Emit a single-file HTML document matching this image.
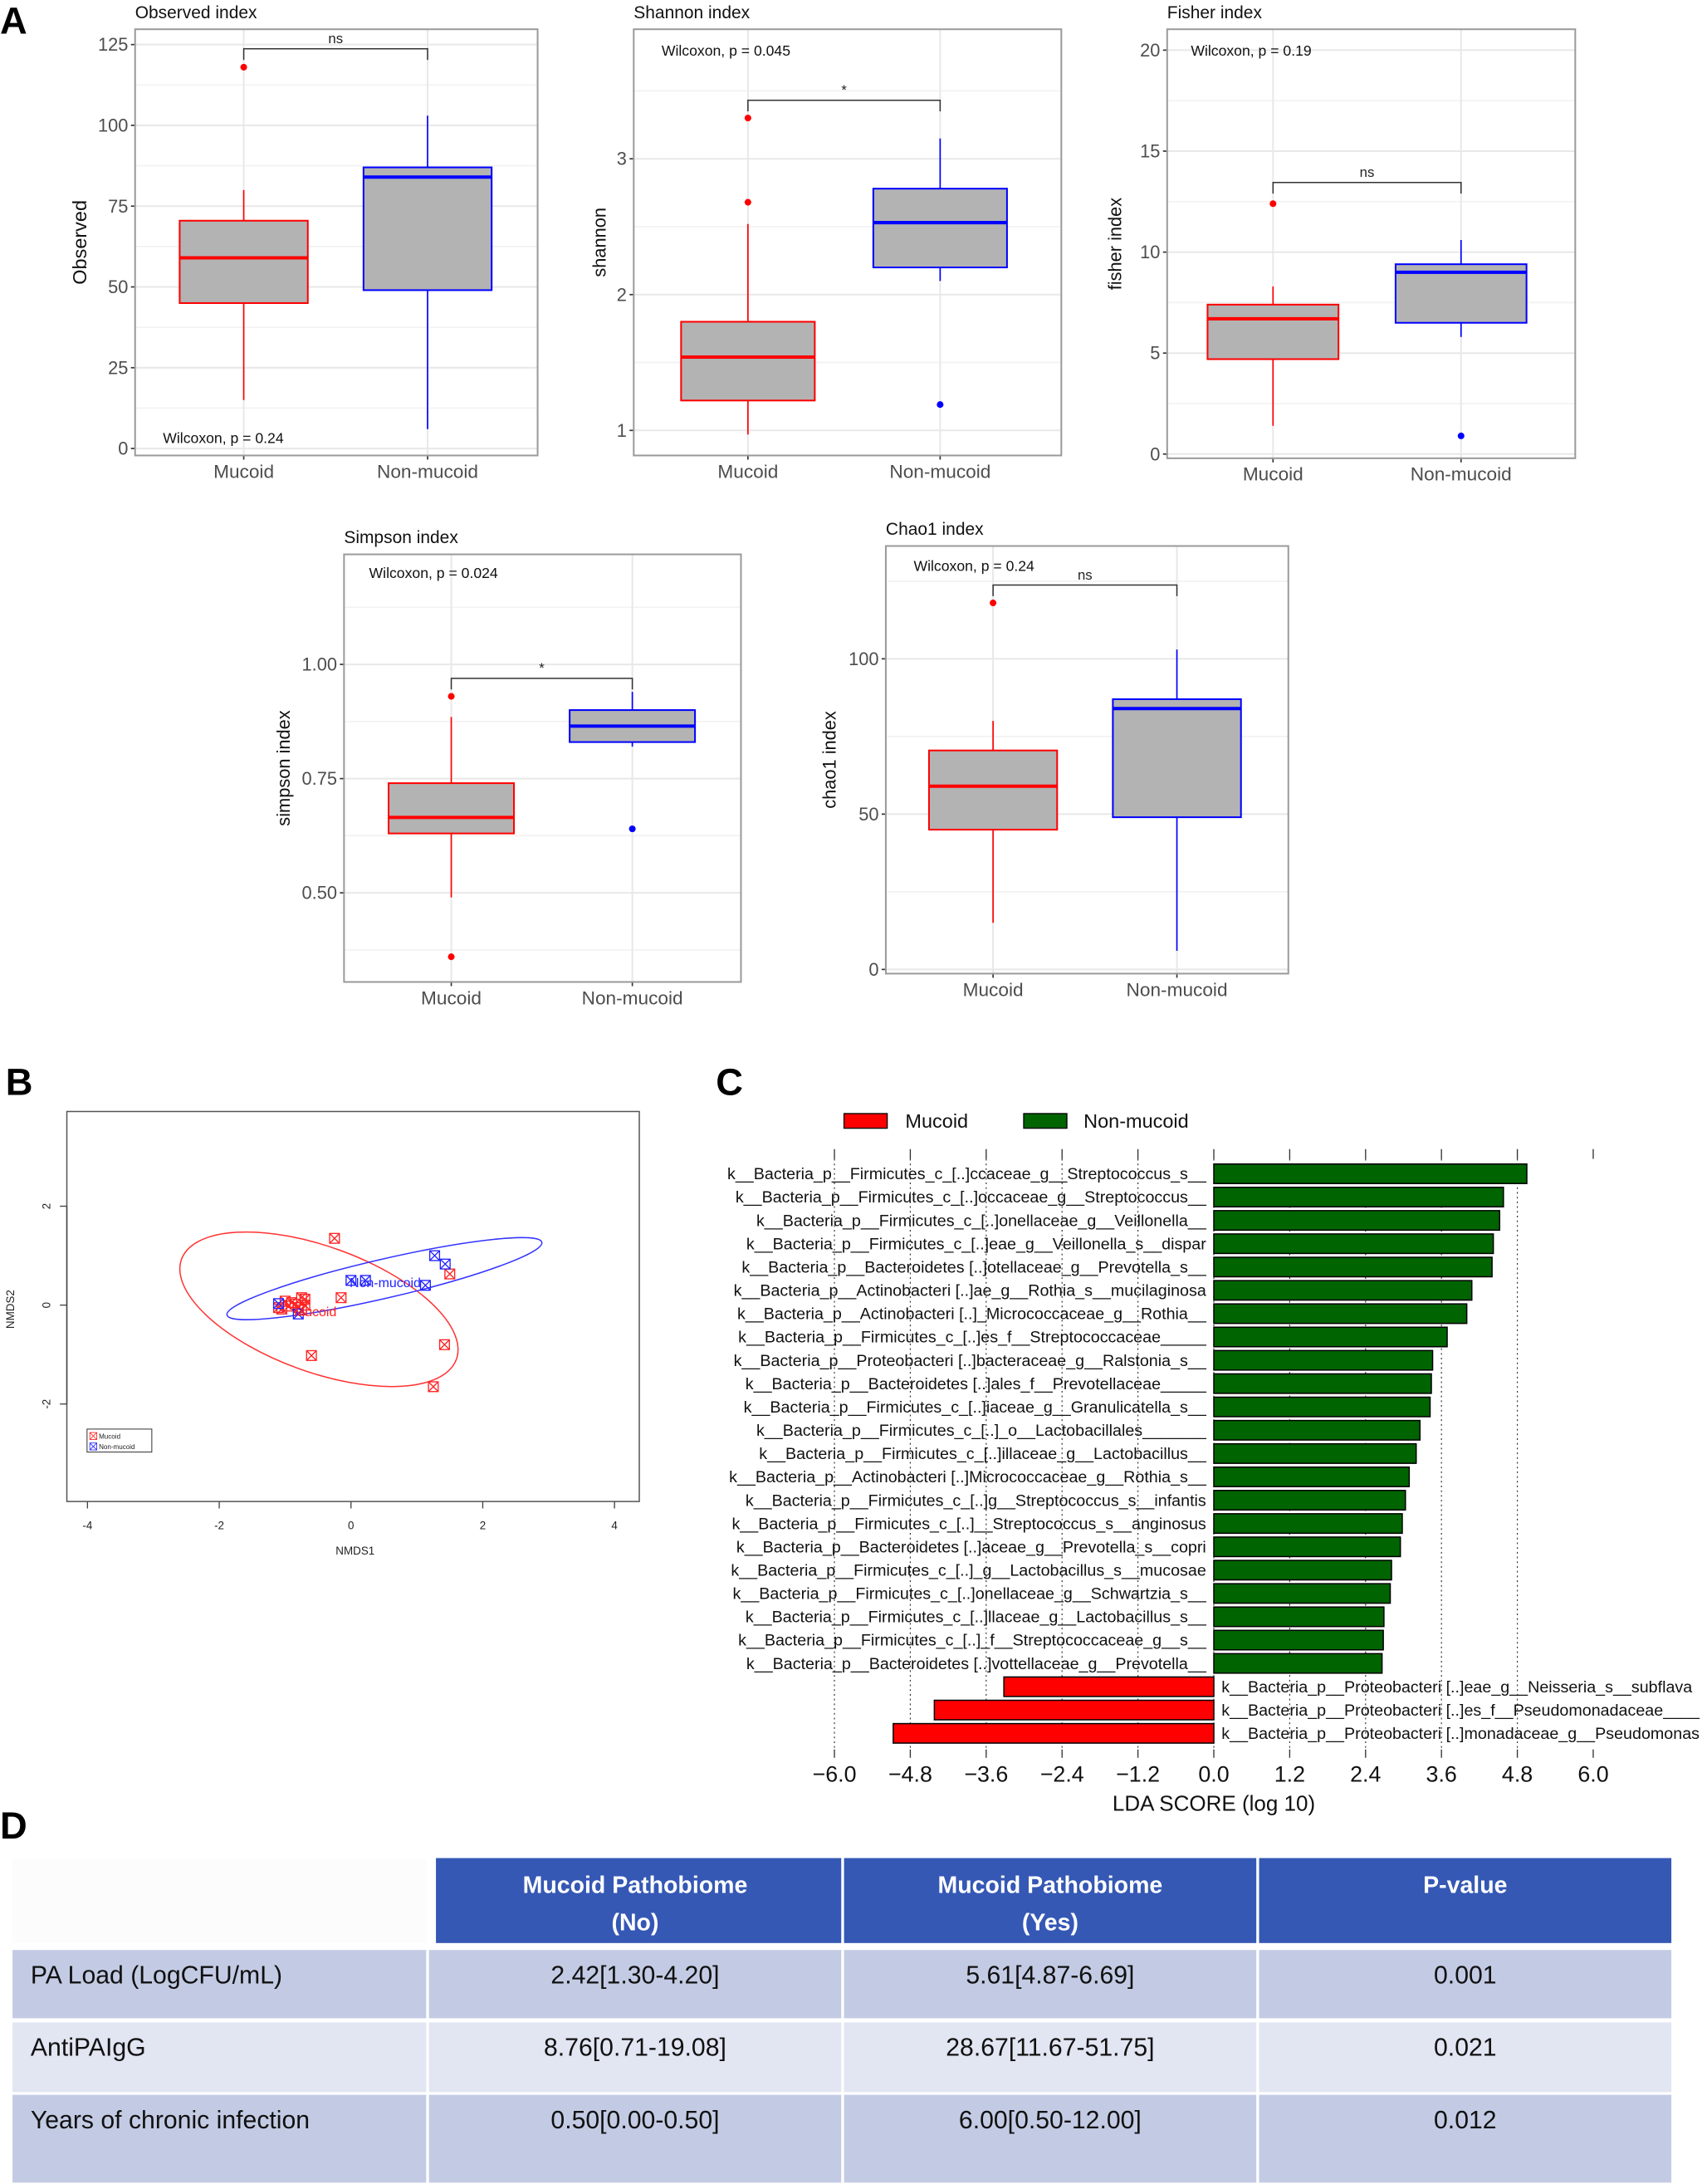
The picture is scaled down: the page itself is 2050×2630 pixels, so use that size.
<!DOCTYPE html>
<html><head><meta charset="utf-8">
<style>
html,body{margin:0;padding:0;background:#fff;}
svg{display:block;}
text{font-family:"Liberation Sans",sans-serif;}
</style></head>
<body>
<svg id="fig" xmlns="http://www.w3.org/2000/svg" width="2050" height="2630" viewBox="0 0 1222 1568" preserveAspectRatio="none">
<rect x="0" y="0" width="1222" height="1568" fill="#fff"/>
<g id="panelA"></g>
<g id="panelB"></g>
<g id="panelC"></g>
<g id="panelD"></g>
<text x="0" y="24" font-size="27" font-weight="bold">A</text>
<text x="4" y="786" font-size="27" font-weight="bold">B</text>
<text x="514" y="786" font-size="27" font-weight="bold">C</text>
<text x="0" y="1320" font-size="27" font-weight="bold">D</text>
</svg>
<script>
// ---------- Panel A data ----------
const boxCats = ['Mucoid', 'Non-mucoid'];
const observedStats = [[15, 45, 59, 70.5, 80], [6, 49, 84, 87, 103]];
const observedOutliers = [[118], []];
const shannonStats = [[0.97, 1.22, 1.54, 1.8, 2.52], [2.1, 2.2, 2.53, 2.78, 3.15]];
const shannonOutliers = [[2.68, 3.3], [1.19]];
const fisherStats = [[1.4, 4.7, 6.7, 7.4, 8.3], [5.8, 6.5, 9.0, 9.4, 10.6]];
const fisherOutliers = [[12.4], [0.9]];
const simpsonStats = [[0.49, 0.63, 0.665, 0.74, 0.885], [0.82, 0.83, 0.865, 0.90, 0.94]];
const simpsonOutliers = [[0.93, 0.36], [0.64]];
const chao1Stats = [[15, 45, 59, 70.5, 80], [6, 49, 84, 87, 103]];
const chao1Outliers = [[118], []];
const observedTicks = [0, 25, 50, 75, 100, 125];
const shannonTicks = [1, 2, 3];
const fisherTicks = [0, 5, 10, 15, 20];
const simpsonTicks = [0.5, 0.75, 1.0];
const simpsonTickLabels = ['0.50', '0.75', '1.00'];
const chao1Ticks = [0, 50, 100];

// ---------- Panel B data ----------
const nmdsRedX = [-0.25, 1.5, -0.15, -0.7, -0.75, -1.0, -0.9, -1.1, -1.05, -0.8, -0.75, -0.85, 1.42, -0.6, 1.25, -0.95, -0.7];
const nmdsRedY = [1.35, 0.63, 0.15, 0.12, 0.15, 0.08, 0.05, -0.05, -0.08, -0.05, -0.1, 0.02, -0.8, -1.02, -1.65, -0.02, 0.0];
const nmdsBlueX = [1.27, 1.43, 0.0, 0.22, 1.13, -1.1, -0.8];
const nmdsBlueY = [1.0, 0.83, 0.5, 0.5, 0.4, 0.03, -0.18];
const nmdsXTicks = [-4, -2, 0, 2, 4];
const nmdsYTicks = [-2, 0, 2];

// ---------- Panel C data ----------
const ldaLabels = [
'k__Bacteria_p__Firmicutes_c_[..]ccaceae_g__Streptococcus_s__',
'k__Bacteria_p__Firmicutes_c_[..]occaceae_g__Streptococcus__',
'k__Bacteria_p__Firmicutes_c_[..]onellaceae_g__Veillonella__',
'k__Bacteria_p__Firmicutes_c_[..]eae_g__Veillonella_s__dispar',
'k__Bacteria_p__Bacteroidetes [..]otellaceae_g__Prevotella_s__',
'k__Bacteria_p__Actinobacteri [..]ae_g__Rothia_s__mucilaginosa',
'k__Bacteria_p__Actinobacteri [..]_Micrococcaceae_g__Rothia__',
'k__Bacteria_p__Firmicutes_c_[..]es_f__Streptococcaceae_____',
'k__Bacteria_p__Proteobacteri [..]bacteraceae_g__Ralstonia_s__',
'k__Bacteria_p__Bacteroidetes [..]ales_f__Prevotellaceae_____',
'k__Bacteria_p__Firmicutes_c_[..]iaceae_g__Granulicatella_s__',
'k__Bacteria_p__Firmicutes_c_[..]_o__Lactobacillales_______',
'k__Bacteria_p__Firmicutes_c_[..]illaceae_g__Lactobacillus__',
'k__Bacteria_p__Actinobacteri [..]Micrococcaceae_g__Rothia_s__',
'k__Bacteria_p__Firmicutes_c_[..]g__Streptococcus_s__infantis',
'k__Bacteria_p__Firmicutes_c_[..]__Streptococcus_s__anginosus',
'k__Bacteria_p__Bacteroidetes [..]aceae_g__Prevotella_s__copri',
'k__Bacteria_p__Firmicutes_c_[..]_g__Lactobacillus_s__mucosae',
'k__Bacteria_p__Firmicutes_c_[..]onellaceae_g__Schwartzia_s__',
'k__Bacteria_p__Firmicutes_c_[..]llaceae_g__Lactobacillus_s__',
'k__Bacteria_p__Firmicutes_c_[..]_f__Streptococcaceae_g__s__',
'k__Bacteria_p__Bacteroidetes [..]vottellaceae_g__Prevotella__',
'k__Bacteria_p__Proteobacteri [..]eae_g__Neisseria_s__subflava',
'k__Bacteria_p__Proteobacteri [..]es_f__Pseudomonadaceae____',
'k__Bacteria_p__Proteobacteri [..]monadaceae_g__Pseudomonas'
];
const ldaScores = [4.95, 4.58, 4.52, 4.42, 4.40, 4.08, 4.00, 3.69, 3.46, 3.44, 3.42, 3.26, 3.20, 3.09, 3.03, 2.98, 2.95, 2.81, 2.79, 2.69, 2.68, 2.66, -3.32, -4.42, -5.07];
const ldaTicks = [-6.0, -4.8, -3.6, -2.4, -1.2, 0.0, 1.2, 2.4, 3.6, 4.8, 6.0];

// ---------- Panel D data ----------
const tableHeaders = [['Mucoid Pathobiome', '(No)'], ['Mucoid Pathobiome', '(Yes)'], ['P-value']];
const tableRowNames = ['PA Load (LogCFU/mL)', 'AntiPAIgG', 'Years of chronic infection'];
const tableColNo = ['2.42[1.30-4.20]', '8.76[0.71-19.08]', '0.50[0.00-0.50]'];
const tableColYes = ['5.61[4.87-6.69]', '28.67[11.67-51.75]', '6.00[0.50-12.00]'];
const tablePvals = ['0.001', '0.021', '0.012'];

const NS = 'http://www.w3.org/2000/svg';
function mk(parent, tag, attrs, txt) {
  const e = document.createElementNS(NS, tag);
  for (const k in attrs) e.setAttribute(k, attrs[k]);
  if (txt !== undefined) e.textContent = txt;
  parent.appendChild(e);
  return e;
}
const colors = ['#ff0000', '#0000ff'];

// ---------- boxplot panels ----------
function boxPanel(cfg, stats, outliers, ticks, tickLabels) {
  const g = mk(document.getElementById('panelA'), 'g', {});
  
  
  const y = v => cfg.y0 - (v - cfg.v0) * cfg.k;
  mk(g, 'rect', {x: cfg.x1, y: cfg.y1, width: cfg.x2 - cfg.x1, height: cfg.y2 - cfg.y1, fill: '#fff'});
  const step = ticks[1] - ticks[0];
  for (let v = ticks[0] - step * 3 + step / 2; v < ticks[ticks.length - 1] + step * 3; v += step) {
    const yy = y(v);
    if (yy > cfg.y1 + 1 && yy < cfg.y2 - 1) mk(g, 'line', {x1: cfg.x1, x2: cfg.x2, y1: yy, y2: yy, stroke: '#f2f2f2', 'stroke-width': 1});
  }
  ticks.forEach((t, i) => {
    const yy = y(t);
    mk(g, 'line', {x1: cfg.x1, x2: cfg.x2, y1: yy, y2: yy, stroke: '#e8e8e8', 'stroke-width': 1.2});
    mk(g, 'line', {x1: cfg.x1 - 3, x2: cfg.x1, y1: yy, y2: yy, stroke: '#333', 'stroke-width': 1});
    const tl = mk(g, 'text', {x: cfg.x1 - 5, y: yy + 4.5, 'font-size': 13, fill: '#4d4d4d', 'text-anchor': 'end'}, tickLabels ? tickLabels[i] : String(t));
    
    
  });
  cfg.xc.forEach(xc => {
    mk(g, 'line', {x1: xc, x2: xc, y1: cfg.y1, y2: cfg.y2, stroke: '#e8e8e8', 'stroke-width': 1.2});
  });
  stats.forEach((s, i) => {
    const xc = cfg.xc[i], c = colors[i], hw = cfg.hw;
    const bg = mk(g, 'g', {});
    
    
    mk(bg, 'line', {x1: xc, x2: xc, y1: y(s[0]), y2: y(s[1]), stroke: c, 'stroke-width': 1});
    mk(bg, 'line', {x1: xc, x2: xc, y1: y(s[3]), y2: y(s[4]), stroke: c, 'stroke-width': 1});
    mk(bg, 'rect', {x: xc - hw, y: y(s[3]), width: hw * 2, height: y(s[1]) - y(s[3]), fill: '#b3b3b3', stroke: c, 'stroke-width': 1.2});
    mk(bg, 'line', {x1: xc - hw, x2: xc + hw, y1: y(s[2]), y2: y(s[2]), stroke: c, 'stroke-width': 2.4});
    outliers[i].forEach(o => {
      const pt = mk(bg, 'circle', {cx: xc, cy: y(o), r: 2.4, fill: c});
      
      
    });
    mk(g, 'line', {x1: xc, x2: xc, y1: cfg.y2, y2: cfg.y2 + 3, stroke: '#333', 'stroke-width': 1});
    const xl = mk(g, 'text', {x: xc, y: cfg.y2 + 16, 'font-size': 13.5, fill: '#4d4d4d', 'text-anchor': 'middle'}, boxCats[i]);
    
    
  });
  mk(g, 'rect', {x: cfg.x1, y: cfg.y1, width: cfg.x2 - cfg.x1, height: cfg.y2 - cfg.y1, fill: 'none', stroke: '#9a9a9a', 'stroke-width': 1.2});
  const by = cfg.by;
  mk(g, 'path', {d: `M${cfg.xc[0]},${by + 8} V${by} H${cfg.xc[1]} V${by + 8}`, fill: 'none', stroke: '#333', 'stroke-width': 0.9});
  const sig = mk(g, 'text', {x: (cfg.xc[0] + cfg.xc[1]) / 2, y: by - 4, 'font-size': 10, fill: '#222', 'text-anchor': 'middle'}, cfg.sig);
  
  
  const w = mk(g, 'text', {x: cfg.wx, y: cfg.wy, 'font-size': 10.5, fill: '#111'}, cfg.wtext);
  
  
  const t = mk(g, 'text', {x: cfg.x1, y: cfg.y1 - 8, 'font-size': 12.5, fill: '#111'}, cfg.title);
  
  
  const yt = mk(g, 'text', {x: cfg.ytx, y: (cfg.y1 + cfg.y2) / 2, 'font-size': cfg.ytSize || 13, fill: '#111', 'text-anchor': 'middle', transform: `rotate(-90 ${cfg.ytx} ${(cfg.y1 + cfg.y2) / 2})`}, cfg.ytitle);
  
  
}

boxPanel({name: 'observed-index-chart', x1: 97, x2: 386, y1: 21, y2: 327, y0: 322, v0: 0, k: 2.32, xc: [175, 307], hw: 46, by: 35, sig: 'ns', wx: 117, wy: 318, wtext: 'Wilcoxon, p = 0.24', title: 'Observed index', ytitle: 'Observed', ytx: 62, ytSize: 14}, observedStats, observedOutliers, observedTicks);
boxPanel({name: 'shannon-index-chart', x1: 455, x2: 762, y1: 21, y2: 327, y0: 309, v0: 1, k: 97.5, xc: [537, 675], hw: 48, by: 72, sig: '*', wx: 475, wy: 40, wtext: 'Wilcoxon, p = 0.045', title: 'Shannon index', ytitle: 'shannon', ytx: 435}, shannonStats, shannonOutliers, shannonTicks);
boxPanel({name: 'fisher-index-chart', x1: 838, x2: 1131, y1: 21, y2: 329, y0: 326, v0: 0, k: 14.5, xc: [914, 1049], hw: 47, by: 131, sig: 'ns', wx: 855, wy: 40, wtext: 'Wilcoxon, p = 0.19', title: 'Fisher index', ytitle: 'fisher index', ytx: 805}, fisherStats, fisherOutliers, fisherTicks);
boxPanel({name: 'simpson-index-chart', x1: 247, x2: 532, y1: 398, y2: 705, y0: 641, v0: 0.5, k: 328, xc: [324, 454], hw: 45, by: 487, sig: '*', wx: 265, wy: 415, wtext: 'Wilcoxon, p = 0.024', title: 'Simpson index', ytitle: 'simpson index', ytx: 208}, simpsonStats, simpsonOutliers, simpsonTicks, simpsonTickLabels);
boxPanel({name: 'chao1-index-chart', x1: 636, x2: 925, y1: 392, y2: 699, y0: 696, v0: 0, k: 2.23, xc: [713, 845], hw: 46, by: 420, sig: 'ns', wx: 656, wy: 410, wtext: 'Wilcoxon, p = 0.24', title: 'Chao1 index', ytitle: 'chao1 index', ytx: 600}, chao1Stats, chao1Outliers, chao1Ticks);

// ---------- Panel B ----------
(function () {
  const g = document.getElementById('panelB');
  const X = v => 252 + v * 47.3, Y = v => 937 - v * 35.5;
  mk(g, 'rect', {x: 48, y: 798, width: 411, height: 280, fill: 'none', stroke: '#555', 'stroke-width': 0.9});
  nmdsXTicks.forEach(t => {
    mk(g, 'line', {x1: X(t), x2: X(t), y1: 1078, y2: 1083, stroke: '#444', 'stroke-width': 0.8});
    const tl = mk(g, 'text', {x: X(t), y: 1098, 'font-size': 8, 'text-anchor': 'middle', fill: '#222'}, String(t));
    
    
  });
  nmdsYTicks.forEach(t => {
    mk(g, 'line', {x1: 43, x2: 48, y1: Y(t), y2: Y(t), stroke: '#444', 'stroke-width': 0.8});
    const tl = mk(g, 'text', {x: 36, y: Y(t), 'font-size': 8, 'text-anchor': 'middle', fill: '#222', transform: `rotate(-90 36 ${Y(t)})`}, String(t));
    
    
  });
  mk(g, 'line', {x1: 48, x2: 48, y1: Y(2), y2: Y(-2), stroke: '#444', 'stroke-width': 0.8});
  const xt = mk(g, 'text', {x: 255, y: 1116, 'font-size': 8, 'text-anchor': 'middle', fill: '#222'}, 'NMDS1');
  
  
  const yt = mk(g, 'text', {x: 10, y: 940, 'font-size': 8, 'text-anchor': 'middle', fill: '#222', transform: 'rotate(-90 10 940)'}, 'NMDS2');
  
  
  const re = mk(g, 'ellipse', {cx: 229, cy: 940, rx: 105, ry: 45, fill: 'none', stroke: '#ff3333', 'stroke-width': 0.9, transform: 'rotate(20 229 940)'});
  
  
  const be = mk(g, 'ellipse', {cx: 276, cy: 918, rx: 116, ry: 14, fill: 'none', stroke: '#3333ff', 'stroke-width': 0.9, transform: 'rotate(-13 276 918)'});
  
  
  function marker(x, y, c) {
    const m = mk(g, 'g', {stroke: c, 'stroke-width': 0.8, fill: 'none'});
    
    
    mk(m, 'rect', {x: x - 3.5, y: y - 3.5, width: 7, height: 7});
    mk(m, 'path', {d: `M${x - 3.5},${y - 3.5} L${x + 3.5},${y + 3.5} M${x + 3.5},${y - 3.5} L${x - 3.5},${y + 3.5}`});
  }
  nmdsRedX.forEach((v, i) => marker(X(v), Y(nmdsRedY[i]), '#ff2222'));
  nmdsBlueX.forEach((v, i) => marker(X(v), Y(nmdsBlueY[i]), '#2222ff'));
  const l1 = mk(g, 'text', {x: 251, y: 924, 'font-size': 9.5, fill: '#2222ff'}, 'Non-mucoid');
  
  
  const l2 = mk(g, 'text', {x: 211, y: 945, 'font-size': 9.5, fill: '#ff2222'}, 'Mucoid');
  
  
  const lg = mk(g, 'g', {});
  
  
  mk(lg, 'rect', {x: 62.5, y: 1026, width: 46.5, height: 16.5, fill: '#fff', stroke: '#333', 'stroke-width': 0.6});
  [['Mucoid', '#ff2222', 1031], ['Non-mucoid', '#2222ff', 1038.5]].forEach(([t, c, yy]) => {
    mk(lg, 'rect', {x: 64.5, y: yy - 2.5, width: 5, height: 5, fill: 'none', stroke: c, 'stroke-width': 0.5});
    mk(lg, 'path', {d: `M64.5,${yy - 2.5} l5,5 M69.5,${yy - 2.5} l-5,5`, stroke: c, 'stroke-width': 0.5});
    mk(lg, 'text', {x: 71, y: yy + 2, 'font-size': 4.8, fill: '#222'}, t);
  });
})();

// ---------- Panel C ----------
(function () {
  const g = document.getElementById('panelC');
  const X = v => 871.5 + v * 45.4;
  const y0 = 842.7, pitch = 16.74, bh = 14;
  ldaTicks.forEach((t, i) => {
    const xx = X(t);
    if (i < ldaTicks.length - 1) mk(g, 'line', {x1: xx, x2: xx, y1: 832, y2: 1256, stroke: '#333', 'stroke-width': 0.7, 'stroke-dasharray': '1.2,2.2'});
    mk(g, 'line', {x1: xx, x2: xx, y1: 825, y2: 832, stroke: '#333', 'stroke-width': 0.8});
    mk(g, 'line', {x1: xx, x2: xx, y1: 1256, y2: 1262, stroke: '#333', 'stroke-width': 0.8});
    const tl = mk(g, 'text', {x: xx, y: 1279, 'font-size': 16, 'text-anchor': 'middle', fill: '#111'}, (t < 0 ? '\u2212' + Math.abs(t).toFixed(1) : t.toFixed(1)));
    
    
  });
  ldaScores.forEach((s, i) => {
    const yc = y0 + i * pitch;
    const c = s >= 0 ? '#006400' : '#ff0000';
    const x1 = Math.min(X(0), X(s)), w = Math.abs(X(s) - X(0));
    const b = mk(g, 'rect', {x: x1, y: yc - bh / 2, width: w, height: bh, fill: c, stroke: '#000', 'stroke-width': 0.9});
    
    
    const lab = s >= 0
      ? mk(g, 'text', {x: 866, y: yc + 4, 'font-size': 11.75, 'text-anchor': 'end', fill: '#111'}, ldaLabels[i])
      : mk(g, 'text', {x: 877, y: yc + 4, 'font-size': 11.75, fill: '#111'}, ldaLabels[i]);
    
    
  });
  const xt = mk(g, 'text', {x: 871.5, y: 1300, 'font-size': 15.5, 'text-anchor': 'middle', fill: '#111'}, 'LDA SCORE (log 10)');
  
  
  const lg = mk(g, 'g', {});
  
  
  mk(lg, 'rect', {x: 606, y: 799.5, width: 31, height: 10.5, fill: '#ff0000', stroke: '#000', 'stroke-width': 0.8});
  mk(lg, 'text', {x: 650, y: 809.5, 'font-size': 14, fill: '#111'}, 'Mucoid');
  mk(lg, 'rect', {x: 735, y: 799.5, width: 31, height: 10.5, fill: '#006400', stroke: '#000', 'stroke-width': 0.8});
  mk(lg, 'text', {x: 778, y: 809.5, 'font-size': 14, fill: '#111'}, 'Non-mucoid');
})();

// ---------- Panel D ----------
(function () {
  const g = document.getElementById('panelD');
  const cols = [[9, 306], [308, 604], [606, 902], [904, 1200]];
  mk(g, 'rect', {x: 9, y: 1334, width: 297, height: 61, fill: '#fcfcfc'});
  tableHeaders.forEach((h, i) => {
    const [a, b] = cols[i + 1];
    const r = mk(g, 'rect', {x: a + (i === 0 ? 5 : 0), y: 1334, width: b - a - (i === 0 ? 5 : 0), height: 61, fill: '#3558b5'});
    
    
    h.forEach((line, j) => {
      mk(g, 'text', {x: (a + b) / 2, y: 1359 + j * 27, 'font-size': 17, 'font-weight': 'bold', fill: '#fff', 'text-anchor': 'middle'}, line);
    });
  });
  const rowY = [[1400, 1449], [1452, 1502], [1504, 1567]];
  const fills = ['#c3cbe4', '#e2e5f2', '#c3cbe4'];
  tableRowNames.forEach((name, i) => {
    const [t, bt] = rowY[i];
    const row = mk(g, 'g', {});
    
    
    cols.forEach(([a, b]) => mk(row, 'rect', {x: a, y: t, width: b - a, height: bt - t, fill: fills[i]}));
    mk(row, 'text', {x: 22, y: t + 24, 'font-size': 18, fill: '#111'}, name);
    [tableColNo[i], tableColYes[i], tablePvals[i]].forEach((v, j) => {
      const [a, b] = cols[j + 1];
      mk(row, 'text', {x: (a + b) / 2, y: t + 24, 'font-size': 18, fill: '#111', 'text-anchor': 'middle'}, v);
    });
  });
})();
</script>
</body></html>
